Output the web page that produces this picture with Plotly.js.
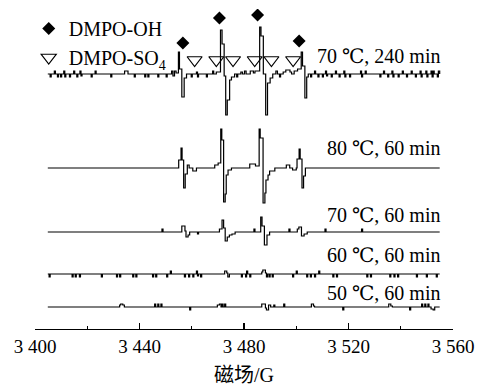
<!DOCTYPE html>
<html>
<head>
<meta charset="utf-8">
<script src="https://cdn.plot.ly/plotly-3.0.1.min.js"></script>
<style>html,body{margin:0;padding:0;background:#fff;}#chart{width:482px;height:387px;}</style>
</head>
<body>
<div id="chart"></div>
<script>
// Magnetic field (G) step points and relative intensities for each spectrum
const x_70_240 = [3404.9,3405.8,3406.2,3407.4,3407.8,3408.6,3409.0,3409.8,3410.2,3411.0,3411.4,3411.8,3413.2,3413.6,3414.8,3415.2,3416.0,3416.4,3417.2,3417.6,3418.0,3421.5,3421.9,3423.0,3423.4,3429.0,3429.4,3434.3,3435.6,3438.0,3438.4,3442.0,3442.4,3443.2,3443.6,3447.0,3447.4,3450.2,3450.6,3452.3,3452.8,3453.4,3454.0,
  3454.9,3455.3,3456.2,3457.1,3458.0,3459.8,3460.2,3461.8,3462.2,3462.6,3465.6,3466.0,3468.0,3468.4,3469.4,
  3471.0,3471.6,3472.4,3473.0,3473.6,3474.5,3475.2,3476.4,3477.2,3477.6,3478.8,3479.4,3480.2,3480.8,3482.4,3483.6,3484.2,
  3486.0,3486.5,3487.4,3488.3,3489.0,3490.0,3491.0,3492.2,3492.8,3493.6,3494.0,3495.0,3496.0,3497.6,3498.2,3499.2,3500.5,
  3501.9,3502.4,3503.3,3504.0,3504.6,
  3505.5,3505.9,3507.0,3507.4,3508.3,3508.7,3510.0,3510.4,3511.2,3511.6,3512.0,3513.4,3513.8,3515.0,3515.4,3516.4,3516.8,3518.2,3518.6,3519.0,3520.4,3520.8,3524.6,3525.0,3525.4,3526.4,3526.8,3532.0,3532.4,3533.4,3533.8,3535.0,3535.4,3536.6,3537.0,3537.4,3539.0,3539.4,3540.6,3541.0,3542.2,3542.6,3544.0,3544.4,3545.6,3546.0,3547.4,3547.8,3548.2,3549.6,3550.0,3550.4,3551.6,3552.0,3552.4,3552.8,3554.0,3554.4,3554.9];
const y_70_240 = [0,-3,0,3,0,-3,0,-3,0,3,-3,0,-3,0,3,0,-3,0,3,-2,0,-3,0,3,0,-3,0,3,0,-3,0,-3,0,-3,0,-3,0,-3,0,3,-2,3,1,
  22,5,-23,-4,0,-3,0,2,-3,0,-3,0,3,0,2,
  44,30,-2,-41,-26,-6,-3,0,-3,0,2,0,3,0,3,1,3,
  47,38,0,-41,-9,-4,0,3,0,-3,0,2,4,2,0,3,5,
  22,8,-24,-3,0,
  -3,0,3,0,-3,0,-3,0,3,-2,0,-3,0,3,0,-3,0,3,-3,0,-3,0,3,-3,0,3,0,-3,0,3,0,-3,0,3,-3,0,-3,0,3,0,-3,0,3,0,-3,0,3,-3,0,3,-3,0,3,-3,3,0,-3,3,0];

const x_80_60 = [3404.9,3455.0,3455.9,3456.3,3456.9,3457.5,3458.3,3459.0,3460.4,3461.8,
  3468.8,3470.1,3471.1,3471.5,3472.2,3472.8,3473.2,3473.9,3475.2,
  3482.2,3484.4,3485.8,3486.2,3487.3,3488.0,3488.4,3489.2,3489.8,3491.8,
  3496.2,3497.5,3498.6,3500.0,3500.3,3501.1,3501.5,3502.2,3502.8,3503.5,3554.9];
const y_80_60 = [0,8,20,8,-20,-6,3,0,-3,0,
  3,5,39,28,-34,-26,-7,-2,0,
  4,2,39,30,-35,-25,-12,-7,-3,0,
  3,0,-2,0,9,19,9,-20,-8,0,0];

const x_70_60 = [3404.9,3448.6,3449.0,3456.2,3457.4,3457.8,3458.6,3459.2,3462.2,3462.6,
  3470.6,3471.6,3472.2,3472.8,3473.6,3474.4,3475.4,3476.6,3483.8,3484.2,
  3486.4,3486.9,3487.8,3488.8,3489.8,3497.2,3497.6,3500.4,3501.0,3502.0,3503.0,3504.2,
  3511.0,3511.4,3525.0,3525.4,3554.9];
const y_70_60 = [0,3,0,6,1,-5,-3,0,-2,0,
  3,12,4,-9,-5,-3,-2,0,3,0,
  15,6,-13,-3,0,3,0,3,5,-4,-2,0,
  3,0,3,0,0];

const x_60_60 = [3404.9,3405.4,3405.8,3414.2,3414.6,3415.4,3415.8,3417.0,3417.4,3425.4,3425.8,3431.2,3431.6,3432.4,3432.8,3437.4,3437.8,3438.6,3439.0,3445.0,3445.4,3446.2,3446.6,3450.4,3450.8,3451.8,3452.2,
  3457.2,3457.6,3458.8,3459.2,3460.4,3460.8,3461.8,3462.2,3462.6,3463.4,3463.8,3472.6,3473.4,3473.8,3474.4,
  3479.0,3479.4,3480.6,3481.0,3481.4,3482.2,3482.6,3486.8,3487.2,3488.2,3488.6,3489.0,3489.6,3490.0,3490.8,3491.2,
  3498.6,3499.0,3500.0,3500.4,3504.0,3504.4,3505.4,3505.8,3507.0,3507.4,3508.6,3509.0,3514.0,3514.4,3515.4,3515.8,
  3527.0,3527.4,3528.4,3528.8,3535.8,3536.2,3537.4,3537.8,3538.8,3539.2,3546.0,3546.4,3549.8,3550.2,3553.6,3554.0,3554.9];
const y_60_60 = [0,-3,0,-3,0,-3,0,-3,0,-3,0,-3,0,-3,0,-3,0,-3,0,-3,0,-3,0,-3,0,3,0,
  -3,0,-3,0,-3,0,3,-2,0,-3,0,3,1,-3,0,
  -3,0,-3,3,0,-3,0,2,4,1,-3,0,-3,0,-3,0,
  -3,0,3,0,-3,0,-3,0,-3,0,3,0,-3,0,-3,0,
  -3,0,-3,0,-3,0,-3,0,-3,0,-3,0,-3,0,-3,0,0];

const x_50_60 = [3404.9,3432.4,3432.8,3433.6,3434.2,3445.8,3446.2,3447.0,3447.4,3448.2,3448.6,3459.2,3459.6,
  3469.8,3470.6,3471.2,3471.6,3472.0,3472.6,3473.0,3486.8,3488.2,3488.6,3489.4,3490.2,3491.4,3491.8,
  3495.2,3495.6,3505.8,3506.6,3507.0,3517.8,3518.2,3535.4,3536.2,3536.8,3543.4,3543.8,
  3548.0,3548.4,3549.2,3549.6,3550.4,3550.8,3551.6,3552.4,3553.0,3554.9];
const y_50_60 = [0,2,3,2,0,3,0,3,0,3,0,-3,0,
  2,3,0,3,0,3,0,3,-1,-3,2,0,2,0,
  3,0,3,1,0,-3,0,3,1,0,-3,0,
  3,0,3,0,3,0,-2,-3,0,0];

// Peak markers
const ohX = [3456.6,3470.6,3485.2,3501.1];
const ohY = [286,311,314,288];
const so4X = [3461.1,3469.4,3475.8,3484.1,3490.5,3498.8];
const so4Y = [269,269,269,269,269,269];

const labels = ['70 ℃, 240 min','80 ℃, 60 min','70 ℃, 60 min','60 ℃, 60 min','50 ℃, 60 min'];
const tickVals = [3400,3440,3480,3520,3560];
const tickText = ['3 400','3 440','3 480','3 520','3 560'];

const series = [[x_70_240,y_70_240],[x_80_60,y_80_60],[x_70_60,y_70_60],[x_60_60,y_60_60],[x_50_60,y_50_60]];
const baselines = [255,161,97,55,22];
const labelY = [273,181,114,74,36];

const FONT = '"Liberation Serif", "DejaVu Serif", serif';
const CJKFONT = '"Liberation Serif", "Noto Sans CJK SC", serif';
const traces = series.map((s,i)=>({
  x: s[0], y: s[1].map(v=>v+baselines[i]), mode:'lines', type:'scatter',
  line:{color:'#000', width:1.2, shape:'hv'}, showlegend:false, hoverinfo:'skip'
}));
traces.push({x:ohX, y:ohY, mode:'markers', type:'scatter', name:'DMPO-OH',
  marker:{symbol:'diamond', size:10, color:'#000'}});
traces.push({x:so4X, y:so4Y, mode:'markers', type:'scatter', name:'DMPO-SO<sub>4</sub>',
  marker:{symbol:'triangle-down-open', size:13, color:'#000', line:{width:1.2, color:'#000'}}});

const annotations = labels.map((t,i)=>({
  text:t, xref:'paper', yref:'y', x:0.976, y:labelY[i], xanchor:'right', yanchor:'middle',
  showarrow:false, font:{family:FONT, size:20, color:'#000'}
}));

const layout = {
  width:482, height:387,
  margin:{l:35, r:29, t:9, b:58},
  paper_bgcolor:'#fff', plot_bgcolor:'#fff',
  font:{family:FONT, color:'#000'},
  xaxis:{range:[3400,3560], tickvals:tickVals, ticktext:tickText, ticks:'inside', ticklen:6, tickwidth:1.2,
    tickcolor:'#000', showline:true, linecolor:'#000', linewidth:1.2, showgrid:false, zeroline:false,
    tickfont:{family:FONT, size:19, color:'#000'},
    minor:{dtick:20, tick0:3400, ticks:'inside', ticklen:3, tickwidth:1.2, tickcolor:'#000', showgrid:false},
    title:{text:'磁场/G', font:{family:CJKFONT, size:20, color:'#000'}, standoff:12}},
  yaxis:{range:[0,320], visible:false, fixedrange:true},
  showlegend:true,
  legend:{x:-0.015, y:1.0, xanchor:'left', yanchor:'top', bgcolor:'rgba(0,0,0,0)',
    font:{family:FONT, size:20, color:'#000'}, tracegroupgap:0},
  annotations: annotations
};
Plotly.newPlot('chart', traces, layout, {staticPlot:true, displayModeBar:false});
</script>
</body>
</html>
